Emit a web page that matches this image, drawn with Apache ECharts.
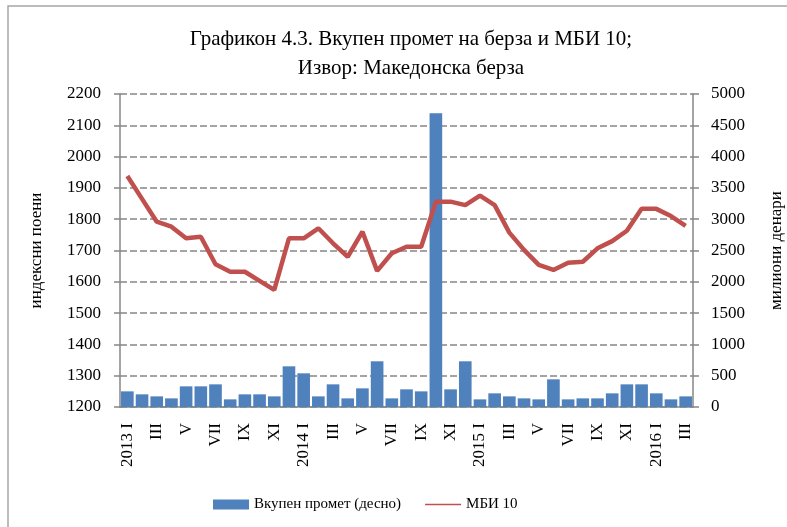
<!DOCTYPE html>
<html lang="mk">
<head>
    <meta charset="UTF-8">
    <script src="https://cdn.jsdelivr.net/npm/echarts@6/dist/echarts.min.js"></script>
    <title>Графикон 4.3</title>
</head>
<body>
<style>
    html, body {
        margin: 0;
        background: #fff;
    }
    #main {
        width: 787px;
        height: 527px;
    }
</style>
<div id='main'></div>
<script>
    // месеци 2013 I - 2016 III
    var months = ['2013 I', 'II', 'III', 'IV', 'V', 'VI', 'VII', 'VIII', 'IX', 'X', 'XI', 'XII',
        '2014 I', 'II', 'III', 'IV', 'V', 'VI', 'VII', 'VIII', 'IX', 'X', 'XI', 'XII',
        '2015 I', 'II', 'III', 'IV', 'V', 'VI', 'VII', 'VIII', 'IX', 'X', 'XI', 'XII',
        '2016 I', 'II', 'III'];

    // вкупен промет, милиони денари (десна оска)
    var turnover = [250, 202, 170, 138, 330, 330, 362, 122, 202, 202, 170, 650,
        538, 170, 362, 138, 298, 730, 138, 282, 250, 4692, 282, 730,
        122, 218, 170, 138, 122, 442, 122, 138, 138, 218, 362, 362,
        218, 122, 170];

    // МБИ 10, индексни поени (лева оска)
    var mbi10 = [1938, 1865, 1792, 1776, 1739, 1744, 1656, 1632, 1632, 1603, 1574, 1739,
        1739, 1771, 1723, 1680, 1760, 1635, 1691, 1712, 1712, 1856, 1856, 1845,
        1875, 1845, 1757, 1702, 1654, 1638, 1661, 1664, 1707, 1730, 1763, 1833,
        1833, 1810, 1779];

    var fontName = '"Liberation Serif", "DejaVu Serif", serif';
    var gray = '#868686';

    var myChart = echarts.init(document.getElementById('main'));

    var option = {
        animation: false,
        backgroundColor: '#fff',
        textStyle: {
            fontFamily: fontName,
            color: '#000'
        },
        title: {
            text: 'Графикон 4.3. Вкупен промет на берза и МБИ 10;\nИзвор: Македонска берза',
            left: 406,
            top: 20,
            textAlign: 'center',
            textStyle: {
                fontFamily: fontName,
                fontSize: 21,
                fontWeight: 'normal',
                color: '#000',
                lineHeight: 29
            }
        },
        graphic: [
            { // рамка
                type: 'rect',
                shape: {x: 8, y: 6, width: 820, height: 600},
                style: {fill: 'none', stroke: '#a6a6a6', lineWidth: 1.5},
                silent: true
            }
        ],
        legend: {
            bottom: 10,
            left: 208,
            itemWidth: 36,
            itemHeight: 10,
            itemGap: 24,
            textStyle: {
                fontFamily: fontName,
                fontSize: 15,
                color: '#000'
            },
            data: [
                {name: 'Вкупен промет (десно)', icon: 'rect'},
                {name: 'МБИ 10', icon: 'path://M0,0 H36 V1.5 H0 Z'}
            ]
        },
        grid: {
            left: 120,
            right: 94,
            top: 94,
            bottom: 120,
            outerBoundsMode: 'none'
        },
        xAxis: {
            type: 'category',
            data: months,
            boundaryGap: true,
            axisLine: {lineStyle: {color: gray, width: 1.5}},
            axisTick: {
                interval: 0,
                length: 6,
                lineStyle: {color: gray, width: 1.5}
            },
            axisLabel: {
                interval: 1,
                rotate: 90,
                margin: 16,
                fontFamily: fontName,
                fontSize: 17,
                color: '#000'
            }
        },
        yAxis: [
            {
                type: 'value',
                name: 'индексни поени',
                nameLocation: 'middle',
                nameGap: 75,
                nameRotate: 90,
                nameTextStyle: {fontFamily: fontName, fontSize: 17, color: '#000'},
                min: 1200,
                max: 2200,
                interval: 100,
                axisLine: {show: true, lineStyle: {color: gray, width: 1.5}},
                axisTick: {show: true, length: 6, lineStyle: {color: gray, width: 1.5}},
                axisLabel: {
                    margin: 19, fontFamily: fontName, fontSize: 17, color: '#000',
                    formatter: function (v) { return String(v); }
                },
                splitLine: {
                    show: true,
                    lineStyle: {color: gray, width: 1.5, type: [7, 3]}
                }
            },
            {
                type: 'value',
                name: 'милиони денари',
                nameLocation: 'middle',
                nameGap: 75,
                nameRotate: 90,
                nameTextStyle: {fontFamily: fontName, fontSize: 17, color: '#000'},
                min: 0,
                max: 5000,
                interval: 500,
                axisLine: {show: true, lineStyle: {color: gray, width: 1.5}},
                axisTick: {show: true, length: 6, lineStyle: {color: gray, width: 1.5}},
                axisLabel: {
                    margin: 18, fontFamily: fontName, fontSize: 17, color: '#000',
                    formatter: function (v) { return String(v); }
                },
                splitLine: {show: false}
            }
        ],
        series: [
            {
                name: 'Вкупен промет (десно)',
                type: 'bar',
                yAxisIndex: 1,
                barCategoryGap: '14%',
                itemStyle: {color: '#4F81BD'},
                data: turnover
            },
            {
                name: 'МБИ 10',
                type: 'line',
                yAxisIndex: 0,
                symbol: 'none',
                itemStyle: {color: '#C0504D'},
                lineStyle: {color: '#C0504D', width: 4.5},
                z: 5,
                data: mbi10
            }
        ]
    };

    myChart.setOption(option);
    window.onresize = myChart.resize;
</script>
</body>
</html>
